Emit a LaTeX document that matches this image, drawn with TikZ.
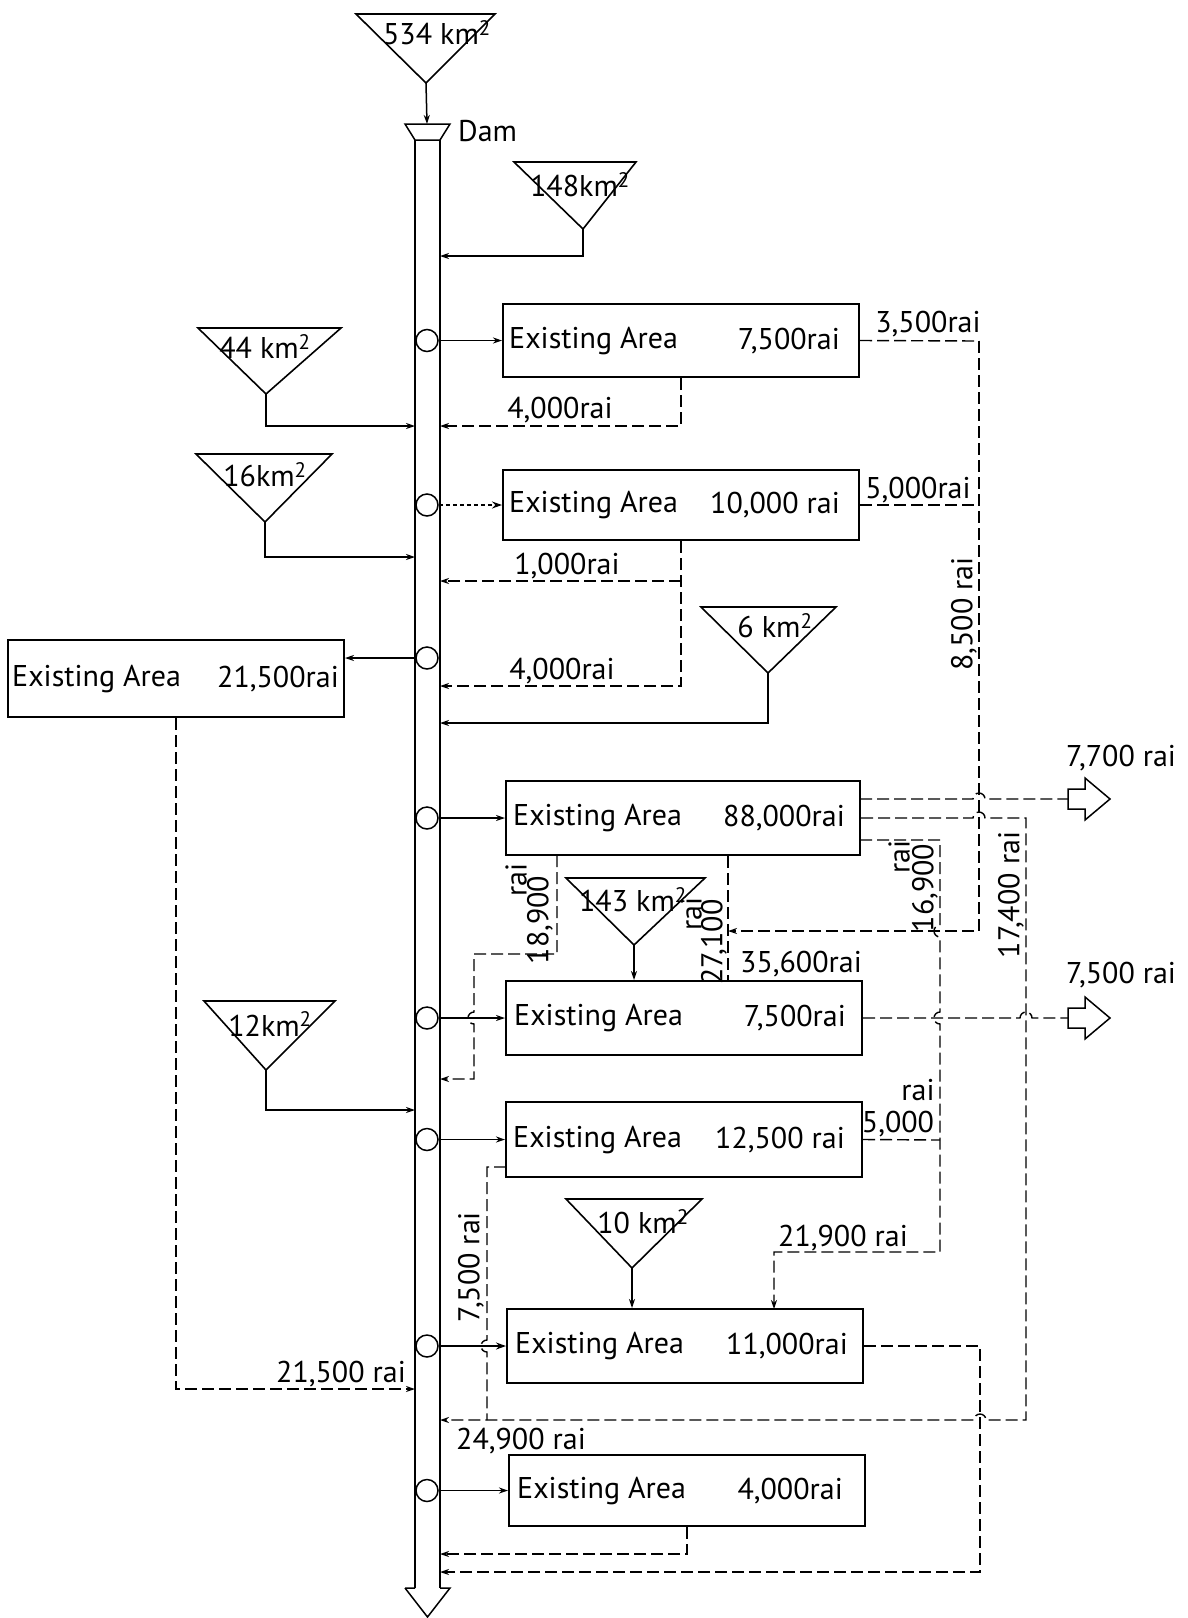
\documentclass[tikz,border=0pt]{standalone}
\usepackage{fontspec}
\setmainfont{PT Sans}
\usetikzlibrary{arrows.meta,calc}
\begin{document}
\begin{tikzpicture}[x=1pt,y=-1pt,
 ln/.style={line width=1.5pt},
 dsh/.style={line width=1.4pt, dash pattern=on 12pt off 5pt},
 dotc/.style={line width=1.4pt, dash pattern=on 4pt off 3pt},
 tip/.style={-{Stealth[length=9pt,width=6pt]}},
 otip/.style={-{Stealth[open,length=10pt,width=7pt]}},
 box/.style={draw, line width=2pt, minimum width=356pt, minimum height=73pt, inner sep=0pt},
 circ/.style={draw, circle, line width=1.5pt, minimum size=22pt, inner sep=0pt, fill=white},
 tri/.style={draw, line width=1.6pt, line join=miter},
 lbl/.style={font=\fontsize{30}{33}\selectfont, inner sep=0pt},
 hollow/.style={draw, line width=1.5pt, line join=miter}
]
\useasboundingbox (0,0) rectangle (1187,1618);

% ---------- main channel ----------
\draw[ln] (405,124) -- (450,124) -- (440,140) -- (415,140) -- cycle;
\draw[ln] (415,140) -- (415,1588);
\draw[ln] (440,140) -- (440,1588);
\draw[ln,line join=miter] (405,1588) -- (415,1588) (440,1588) -- (450,1588) -- (427.5,1617) -- (405,1588);
\coordinate (dam) at (427,124);
\node[lbl,anchor=west] (damlbl) at (458,131) {Dam};

% ---------- catchments ----------
\draw[tri] (356,14) -- (495,14) -- (426,83) -- cycle; \coordinate (t534) at (426,83);
\node[lbl] (k534) at (437,33) {534 km\textsuperscript{2}};
\draw[tri] (514,162) -- (636,162) -- (583,229) -- cycle; \coordinate (t148) at (583,229);
\node[lbl] (k148) at (580,185) {148km\textsuperscript{2}};
\draw[tri] (198,328) -- (341,328) -- (266,394) -- cycle; \coordinate (t44) at (266,394);
\node[lbl] (k44) at (265,347) {44 km\textsuperscript{2}};
\draw[tri] (196,454) -- (332,454) -- (265,522) -- cycle; \coordinate (t16) at (265,522);
\node[lbl] (k16) at (265,475) {16km\textsuperscript{2}};
\draw[tri] (701,607) -- (836,607) -- (768,673) -- cycle; \coordinate (t6) at (768,673);
\node[lbl] (k6) at (775,626) {6 km\textsuperscript{2}};
\draw[tri] (566,878) -- (705,878) -- (634,945) -- cycle; \coordinate (t143) at (634,945);
\node[lbl] (k143) at (633,900) {143 km\textsuperscript{2}};
\draw[tri] (204,1001) -- (335,1001) -- (266,1070) -- cycle; \coordinate (t12) at (266,1070);
\node[lbl] (k12) at (270,1024) {12km\textsuperscript{2}};
\draw[tri] (566,1199) -- (702,1199) -- (632,1268) -- cycle; \coordinate (t10) at (632,1268);
\node[lbl] (k10) at (643,1222) {10 km\textsuperscript{2}};

% ---------- boxes ----------
\node[box] (bA) at (681,340.5) {};
\node[box, minimum height=70pt] (bB) at (681,505) {};
\node[box, minimum width=336pt, minimum height=77pt] (bC) at (176,678.5) {};
\node[box, minimum width=354pt, minimum height=74pt] (bD) at (683,818) {};
\node[box, minimum height=74pt] (bE) at (684,1018) {};
\node[box, minimum height=75pt] (bF) at (684,1139.5) {};
\node[box, minimum height=74pt] (bG) at (685,1346) {};
\node[box, minimum height=71pt] (bH) at (687,1490.5) {};

\node[lbl,anchor=west] (xA) at (509,341) {Existing Area};
\node[lbl,anchor=east] (vA) at (840,341) {7,500rai};
\node[lbl,anchor=west] (xB) at (509,505) {Existing Area};
\node[lbl,anchor=east] (vB) at (840,505) {10,000 rai};
\node[lbl,anchor=west] (xC) at (12,679) {Existing Area};
\node[lbl,anchor=east] (vC) at (339,679) {21,500rai};
\node[lbl,anchor=west] (xD) at (513,818) {Existing Area};
\node[lbl,anchor=east] (vD) at (845,818) {88,000rai};
\node[lbl,anchor=west] (xE) at (514,1018) {Existing Area};
\node[lbl,anchor=east] (vE) at (846,1018) {7,500rai};
\node[lbl,anchor=west] (xF) at (513,1140) {Existing Area};
\node[lbl,anchor=east] (vF) at (845,1140) {12,500 rai};
\node[lbl,anchor=west] (xG) at (515,1346) {Existing Area};
\node[lbl,anchor=east] (vG) at (848,1346) {11,000rai};
\node[lbl,anchor=west] (xH) at (517,1491) {Existing Area};
\node[lbl,anchor=east] (vH) at (843,1491) {4,000rai};

% ---------- channel junction coordinates ----------
\coordinate (R148) at (440,256);
\coordinate (L44) at (415,426);
\coordinate (R4a) at (440,426);
\coordinate (L16) at (415,557);
\coordinate (R10) at (440,581);
\coordinate (R4b) at (440,686);
\coordinate (R6) at (440,723);
\coordinate (R189) at (440,1079);
\coordinate (L12) at (415,1110);
\coordinate (L215) at (415,1389);
\coordinate (R249) at (440,1420);
\coordinate (RG) at (440,1572);
\coordinate (RH) at (440,1554);

% ---------- catchment inflows ----------
\draw[ln,tip] (t534) -- (dam);
\draw[ln,tip] (t148) |- (R148);
\draw[ln,tip] (t44) |- (L44);
\draw[ln,tip] (t16) |- (L16);
\draw[ln,tip] (t6) |- (R6);
\draw[ln,tip] (t143) -- (t143 |- bE.north);
\draw[ln,tip] (t12) |- (L12);
\draw[ln,tip] (t10) -- (t10 |- bG.north);

% ---------- diversions (circles) ----------
\node[circ] (cA) at (427,340.5) {};
\node[circ] (cB) at (427,505) {};
\node[circ] (cC) at (427,658) {};
\node[circ] (cD) at (427,818) {};
\node[circ] (cE) at (427,1018) {};
\node[circ] (cF) at (427,1139.5) {};
\node[circ] (cG) at (427,1346) {};
\node[circ] (cH) at (427,1490.5) {};

\draw[ln,tip] (cA.east) -- (bA.west);
\draw[dotc,otip] (cB.east) -- (bB.west);
\draw[ln,tip] (cC.west) -- (cC -| bC.east);
\draw[ln,tip] (cD.east) -- (bD.west);
\draw[ln,tip] (cE.east) -- (bE.west);
\draw[ln,tip] (cF.east) -- (bF.west);
\draw[ln,otip] (cG.east) -- (bG.west);
\draw[ln,tip] (cH.east) -- (bH.west);

% ---------- return flows ----------
% box A
\draw[dsh,tip] (bA.south) |- (R4a);
\node[lbl] (l4a) at (560,410) {4,000rai};
\coordinate (v85a) at (979,341);
\coordinate (v85b) at (979,505);
\coordinate (v85c) at (979,931);
\coordinate (j27) at (728,931);
\draw[dsh] (bA.east) -- (v85a);
\node[lbl] (l35) at (928,324) {3,500rai};
% box B
\draw[dsh] (bB.east) -- (v85b);
\node[lbl] (l50) at (918,490) {5,000rai};
\draw[dsh,tip] (bB.south) |- (R4b);
\draw[dsh,tip] (bB.south |- R10) -- (R10);
\node[lbl] (l10) at (567,566) {1,000rai};
\node[lbl] (l4b) at (562,671) {4,000rai};
% 8,500 rai
\draw[dsh,tip] (v85a) -- (v85c) -- (j27);
\node[lbl,rotate=90] (l85) at (964,614) {8,500 rai};
% box C
\draw[dsh,tip] (bC.south) |- (L215);
\node[lbl] (l215) at (341,1374) {21,500 rai};

% box D
\coordinate (d1) at (860,799);
\coordinate (d3) at (860,840);
\coordinate (o77) at (1068,799);
\draw[dsh] (d1) -- (973,799) arc[start angle=180,end angle=360,radius=6] -- (o77);
\draw[hollow] (o77) ++(0,-10) -- ++(17,0) -- ++(0,-11) -- ++(25,21) -- ++(-25,21) -- ++(0,-11) -- ++(-17,0) -- cycle;
\node[lbl] (l77) at (1121,758) {7,700 rai};
% 17,400 -> 24,900
\draw[dsh,tip] (bD.east) -- (973,818) arc[start angle=180,end angle=360,radius=6]
   -- (1026,818) -- (1026,1420) -- (986,1420) arc[start angle=0,end angle=-180,radius=6] -- (R249);
\node[lbl,rotate=90] (l174) at (1011,895) {17,400 rai};
\node[lbl] (l249) at (521,1441) {24,900 rai};
% 16,900 -> 21,900
\draw[dsh,tip] (d3) -- (940,840) -- (940,925) arc[start angle=270,end angle=90,radius=6]
   -- (940,1012) arc[start angle=270,end angle=90,radius=6] -- (940,1252) -- (774,1252) -- (774,1309);
\node[lbl,rotate=90] (l169n) at (925,888) {16,900};
\node[lbl,rotate=90] (l169r) at (899,857) {rai};
\node[lbl] (l219) at (843,1238) {21,900 rai};
% 27,100
\draw[dsh] (bD.south -| j27) -- (bE.north -| j27);
\node[lbl,rotate=90] (l271n) at (714,942) {27,100};
\node[lbl,rotate=90] (l271r) at (691,914) {rai};
\node[lbl] (l356) at (801,964) {35,600rai};
% 18,900
\coordinate (d189) at (557,855);
\draw[dsh,tip] (d189) -- (557,954) -- (474,954) -- (474,1012) arc[start angle=270,end angle=90,radius=6] -- (474,1079) -- (R189);
\node[lbl,rotate=90] (l189n) at (540,920) {18,900};
\node[lbl,rotate=90] (l189r) at (516,880) {rai};

% box E
\coordinate (o75) at (1068,1018);
\draw[dsh] (bE.east) -- (1020,1018) arc[start angle=180,end angle=360,radius=6] -- (o75);
\draw[hollow] (o75) ++(0,-10) -- ++(17,0) -- ++(0,-11) -- ++(25,21) -- ++(-25,21) -- ++(0,-11) -- ++(-17,0) -- cycle;
\node[lbl] (l75) at (1121,975) {7,500 rai};

% box F
\draw[dsh] (bF.east) -- (940,1140);
\node[lbl] (l5f) at (898,1124) {5,000};
\node[lbl] (l5r) at (918,1090) {rai};
\coordinate (f75) at (506,1167);
\draw[dsh] (f75) -- (487,1167) -- (487,1340) arc[start angle=270,end angle=90,radius=6] -- (487,1420);
\node[lbl,rotate=90] (l75f) at (471,1267) {7,500 rai};

% box G
\draw[dsh,tip] (bG.east) -- (980,1346) -- (980,1572) -- (RG);
% box H
\draw[dsh,tip] (bH.south) |- (RH);
\end{tikzpicture}
\end{document}
